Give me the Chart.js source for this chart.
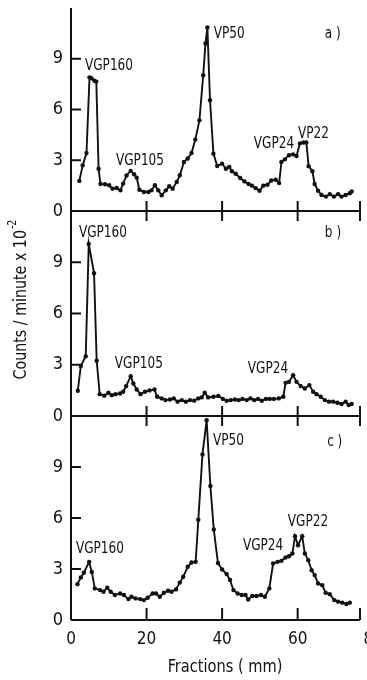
<!DOCTYPE html>
<html>
<head>
<meta charset="utf-8">
<script src="https://cdn.jsdelivr.net/npm/chart.js@4.4.1/dist/chart.umd.min.js"></script>
<style>
  html, body { margin: 0; padding: 0; background: #fff; overflow: hidden; }
  #wrap { position: relative; width: 367px; height: 680px; }
  canvas { position: absolute; left: 0; }
</style>
</head>
<body>
<div id="wrap">
  <canvas id="panelA" width="367" height="225" style="top:0px"></canvas>
  <canvas id="panelB" width="367" height="230" style="top:200px"></canvas>
  <canvas id="panelC" width="367" height="275" style="top:405px"></canvas>
</div>
<script>
// fraction (mm) and counts/minute x 10^-2 for each run
const fracA = [2.2,3.1,4.1,4.9,5.4,6.2,6.7,7.3,7.8,9,10.1,11,12.1,13.1,13.8,14.7,15.8,16.7,17.4,18.1,19.3,20.5,21.3,22.2,23.1,24,25.1,26,26.9,28,28.8,29.9,30.9,31.9,32.9,34,35,35.6,36.1,36.8,37.7,38.7,40,41,41.9,42.6,43.6,44.8,45.9,47,47.9,48.9,49.9,50.9,52,53,54.2,55.1,55.7,56.6,57.7,58.8,59.7,60.6,61.5,62.3,62.9,63.9,64.5,65.4,66.3,67.5,68.5,69.6,70.7,71.6,72.7,73.8,74.3];
const countsA = [1.78,2.7,3.43,7.9,7.85,7.7,7.65,2.5,1.6,1.58,1.52,1.32,1.36,1.22,1.62,2.1,2.37,2.17,1.97,1.26,1.12,1.12,1.22,1.52,1.22,0.93,1.22,1.46,1.32,1.72,2.11,2.9,3.1,3.43,4.22,5.36,8.03,9.9,10.85,6.55,3.39,2.66,2.8,2.5,2.6,2.35,2.2,1.95,1.75,1.6,1.5,1.35,1.2,1.5,1.55,1.8,1.85,1.65,2.9,3.05,3.3,3.35,3.25,4.0,4.05,4.05,2.65,2.35,1.6,1.2,0.95,0.85,1.0,0.85,1.0,0.85,0.95,1.05,1.15];

const fracB = [1.8,2.6,3.9,4.7,6.1,6.8,7.6,8.8,9.9,10.8,11.8,13,13.8,14.6,15.8,16.5,17.4,18.4,19.6,20.8,22.1,22.8,24,25,26.2,27.2,28.2,29.3,30.4,31.5,32.6,33.7,34.6,35.4,36.3,37.7,39,40.2,41.2,42.3,43.4,44.4,45.4,46.5,47.5,48.5,49.5,50.5,51.6,52.6,53.7,55,56.2,56.8,57.7,58.8,59.7,60.8,61.9,63.1,64.1,65,66.1,67.2,68.3,69.4,70.5,71.6,72.7,73.5,74.3];
const countsB = [1.48,2.93,3.5,10.07,8.36,3.23,1.28,1.19,1.36,1.22,1.28,1.32,1.42,1.75,2.33,1.9,1.55,1.28,1.42,1.5,1.55,1.13,1.03,0.93,0.97,1.03,0.84,0.93,0.84,0.93,0.9,1.03,1.09,1.36,1.09,1.13,1.17,1.0,0.89,0.93,0.97,0.93,1.0,0.93,1.03,0.93,1.0,0.89,1.0,1.0,1.0,1.03,1.13,1.94,2.0,2.39,2.0,1.75,1.61,1.81,1.42,1.28,1.13,0.93,0.84,0.84,0.78,0.7,0.84,0.64,0.7];

const fracC = [1.7,2.6,3.4,4.8,5.5,6.3,7.7,8.6,9.6,10.5,11.6,13,14,15.2,16,17.1,18.3,19.3,20.3,21.6,22.5,23.5,24.6,25.7,26.6,27.8,28.8,29.7,30.9,31.9,33,33.7,34.8,35.9,36.9,37.8,38.9,40,41.2,42.1,43,44.1,45.2,46.2,46.9,48,49.1,50.3,51.3,52.5,53.5,54.7,55.7,56.8,57.7,58.6,59.3,60.1,61.2,61.9,62.8,63.7,64.5,65.4,66.5,67.4,68.5,69.7,70.7,71.8,72.9,73.8];
const countsC = [2.11,2.5,2.78,3.42,2.83,1.86,1.76,1.66,1.9,1.66,1.47,1.56,1.47,1.23,1.37,1.27,1.23,1.17,1.31,1.56,1.56,1.37,1.6,1.72,1.66,1.8,2.2,2.54,3.13,3.38,3.42,5.9,9.74,11.75,7.88,5.32,3.35,2.97,2.7,2.35,1.76,1.56,1.47,1.47,1.21,1.41,1.41,1.47,1.37,1.86,3.32,3.42,3.48,3.68,3.75,3.91,4.93,4.4,4.93,3.91,3.52,2.93,2.64,2.15,2.05,1.6,1.52,1.17,1.08,1.02,0.94,1.02];

// peak names: [text, fraction, counts] (left edge, middle of text)
const peaksA = [["VGP160",3.7,8.56],["VGP105",11.9,2.97],["VP50",37.8,10.46],["VGP24",48.4,3.95],["VP22",60.1,4.54],["a )",67.2,10.46]];
const peaksB = [["VGP160",2.1,10.7],["VGP105",11.6,3.03],["VGP24",46.8,2.74],["b )",67.2,10.7]];
const peaksC = [["VGP160",1.3,4.16],["VP50",37.6,10.56],["VGP24",45.5,4.34],["VGP22",57.4,5.78],["c )",67.8,10.5]];

const yTicks = [0,3,6,9];
const xTicks = [0,20,40,60,80];
const xTickMarks = [20,40,60];
const xEnd = 76.5;
const yTop = 12;

const FONT = '"DejaVu Sans Condensed", "DejaVu Sans", sans-serif';
const INK = '#111';

// draw text squeezed horizontally (the original lettering is condensed)
const squeezed = (ctx, text, x, y, sx) => {
  ctx.save();
  ctx.translate(x, y);
  ctx.scale(sx, 1);
  ctx.fillText(text, 0, 0);
  ctx.restore();
};

// axis lines + inward/crossing tick marks
const framePlugin = {
  id: 'frame',
  afterDraw(chart, args, opts) {
    const ctx = chart.ctx;
    const x = chart.scales.x, y = chart.scales.y;
    const x0 = x.getPixelForValue(0), x1 = x.getPixelForValue(xEnd);
    const yb = y.getPixelForValue(0), yt = y.getPixelForValue(yTop);
    ctx.save();
    ctx.strokeStyle = INK;
    ctx.lineWidth = 2;
    ctx.beginPath();
    ctx.moveTo(x0, yt); ctx.lineTo(x0, yb);
    ctx.moveTo(x0, yb); ctx.lineTo(x1, yb);
    yTicks.slice(1).forEach(v => {
      const py = y.getPixelForValue(v);
      ctx.moveTo(x0, py); ctx.lineTo(x0 + 10, py);
    });
    xTickMarks.concat([xEnd]).forEach(v => {
      const px = x.getPixelForValue(v);
      ctx.moveTo(px, yb - (opts.cross ? 10 : 12));
      ctx.lineTo(px, yb + (opts.cross ? 10 : 0));
    });
    ctx.stroke();
    ctx.restore();
  }
};

// peak names and panel letter
const peakPlugin = {
  id: 'peaks',
  afterDraw(chart, args, opts) {
    const ctx = chart.ctx;
    const x = chart.scales.x, y = chart.scales.y;
    ctx.save();
    ctx.fillStyle = INK;
    ctx.font = '16px ' + FONT;
    ctx.textAlign = 'left';
    ctx.textBaseline = 'middle';
    (opts.items || []).forEach(p => {
      squeezed(ctx, p[0], x.getPixelForValue(p[1]), y.getPixelForValue(p[2]), 0.84);
    });
    ctx.restore();
  }
};

// side title (middle panel) and bottom title (last panel)
const titlePlugin = {
  id: 'titles',
  afterDraw(chart, args, opts) {
    const ctx = chart.ctx;
    ctx.save();
    ctx.fillStyle = INK;
    ctx.textBaseline = 'middle';
    if (opts.side) {
      ctx.translate(opts.side.x, opts.side.y);
      ctx.rotate(-Math.PI / 2);
      ctx.scale(0.88, 1);
      ctx.font = '18px ' + FONT;
      const main = 'Counts / minute x 10';
      const w = ctx.measureText(main).width;
      ctx.font = '12px ' + FONT;
      const sw = ctx.measureText('-2').width;
      const start = -(w + sw) / 2;
      ctx.font = '18px ' + FONT;
      ctx.fillText(main, start, 0);
      ctx.font = '12px ' + FONT;
      ctx.fillText('-2', start + w + 1, -8);
    }
    if (opts.bottom) {
      ctx.font = '18px ' + FONT;
      ctx.textAlign = 'center';
      squeezed(ctx, 'Fractions ( mm)', opts.bottom.x, opts.bottom.y, 0.9);
    }
    ctx.restore();
  }
};

const makePanel = (id, frac, counts, peaks, cfg) => {
  const pts = frac.map((f, i) => ({ x: f, y: counts[i] }));
  const config = {
    type: 'line',
    data: {
      datasets: [{
        data: pts,
        borderColor: INK,
        backgroundColor: INK,
        borderWidth: 1.9,
        pointRadius: 2.2,
        pointHoverRadius: 2.2,
        pointBorderWidth: 0,
        tension: 0,
        fill: false
      }]
    },
    options: {
      responsive: false,
      animation: false,
      events: [],
      layout: { padding: { top: cfg.padTop, right: 7, bottom: cfg.padBottom, left: 0 } },
      plugins: {
        legend: { display: false },
        tooltip: { enabled: false },
        frame: { cross: cfg.cross },
        peaks: { items: peaks },
        titles: { side: cfg.side, bottom: cfg.bottom }
      },
      scales: {
        x: {
          type: 'linear',
          min: 0,
          max: xEnd,
          display: cfg.xLabels,
          afterBuildTicks: s => { s.ticks = xTicks.map(v => ({ value: v })); },
          afterFit: s => {
            s.height = cfg.xLabels ? 60 : 0;
            s.paddingLeft = 0; s.paddingRight = 0;
          },
          grid: { display: false, drawTicks: false },
          border: { display: false },
          ticks: { color: INK, font: { family: FONT, size: 17 }, padding: 9, maxRotation: 0, autoSkip: false }
        },
        y: {
          min: 0,
          max: yTop,
          afterBuildTicks: s => { s.ticks = yTicks.map(v => ({ value: v })); },
          afterFit: s => { s.width = 71; s.paddingTop = 0; s.paddingBottom = 0; },
          grid: { display: false, drawTicks: false },
          border: { display: false },
          ticks: { color: INK, font: { family: FONT, size: 18 }, padding: 8 }
        }
      }
    },
    plugins: [framePlugin, peakPlugin, titlePlugin]
  };
  return new Chart(document.getElementById(id), config);
};

makePanel('panelA', fracA, countsA, peaksA, { padTop: 8, padBottom: 14, cross: true, xLabels: false });
makePanel('panelB', fracB, countsB, peaksB, { padTop: 11, padBottom: 14, cross: true, xLabels: false, side: { x: 21, y: 100 } });
makePanel('panelC', fracC, countsC, peaksC, { padTop: 11, padBottom: 0, cross: false, xLabels: true, bottom: { x: 225, y: 262 } });
</script>
</body>
</html>
